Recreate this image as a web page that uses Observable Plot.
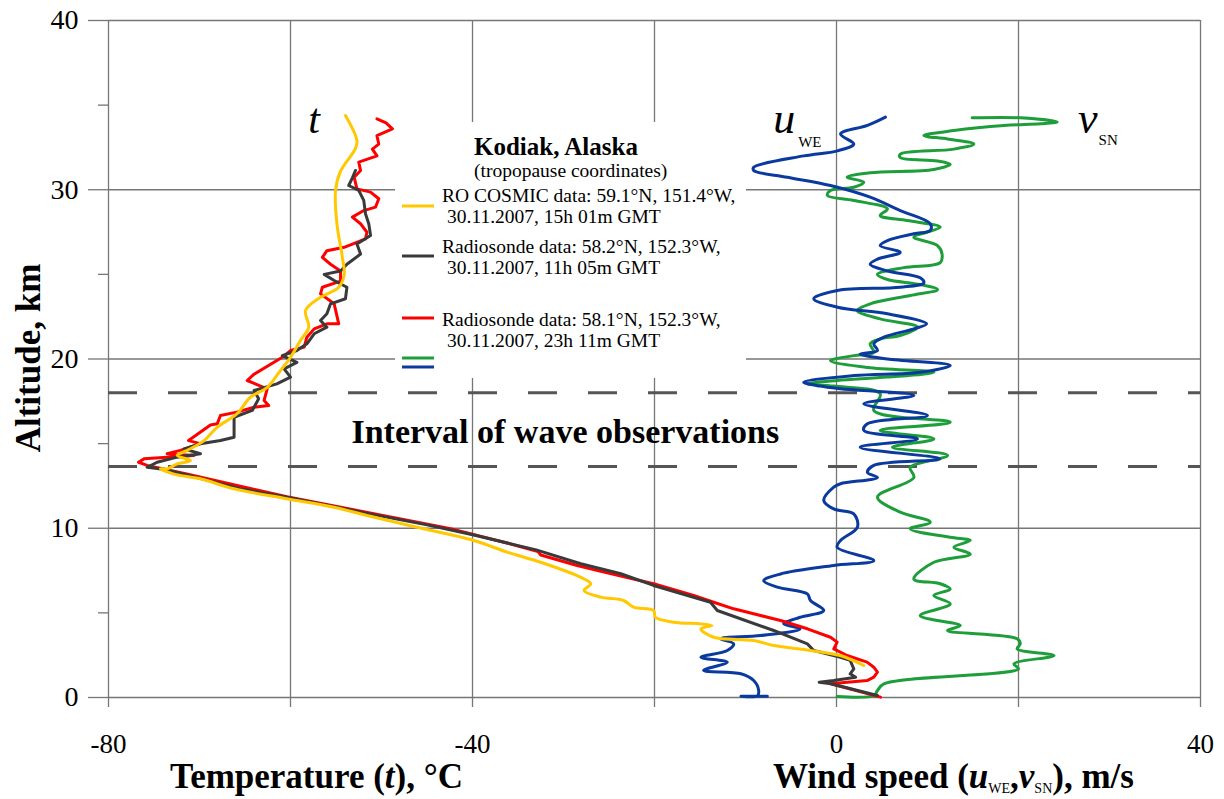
<!DOCTYPE html>
<html>
<head>
<meta charset="utf-8">
<script src="https://cdn.jsdelivr.net/npm/d3@7"></script>
<script src="https://cdn.jsdelivr.net/npm/@observablehq/plot@0.6"></script>
<style>
  body { margin: 0; background: #fff; }
  #chart svg { display: block; }
  #chart svg text { font-family: 'Liberation Serif', 'Times New Roman', serif !important; }
</style>
</head>
<body>
<div id="chart"></div>
<script>
// ---------- tick values ----------
const xGridTicks = [-80, -60, -40, -20, 0, 20, 40];
const xLabelTicks = [-80, -40, 0, 40];
const yMajorTicks = [0, 10, 20, 30, 40];
const yMinorTicks = [5, 15, 25, 35];

// ---------- interval of wave observations (altitude, km) ----------
const intervalBounds = [13.65, 18.0];
const intervalLabel = [{label: "Interval of wave observations", x: -29.8, y: 15.83}];

// ---------- profiles: [value, altitude km] ----------
// RO COSMIC temperature, °C
const cosmicT = [
  [-53.96,34.39],[-52.7,32.9],[-52.9,32.4],[-54.5,31.1],[-55.05,29.96],[-54.9,28.0],[-54.3,26.0],[-54.1,25.0],
  [-54.7,24.24],[-56.7,23.65],[-58.35,22.87],[-58.0,21.88],[-58.9,21.1],[-60.0,20.1],[-61.1,19.32],[-62.56,18.33],
  [-64.4,17.74],[-65.9,16.76],[-68.05,15.97],[-69.5,15.18],[-71.35,14.6],[-72.45,14.3],[-71.0,14.0],[-72.45,13.8],
  [-73.55,13.51],[-74.3,13.51],[-72.8,13.2],[-69.9,12.92],[-66.2,12.33],[-60.4,11.74],[-55.2,11.24],[-51.6,10.75],
  [-46.1,10.06],[-39.85,9.28],[-36.2,8.59],[-32.5,7.99],[-28.1,7.1],[-27.0,6.72],[-27.75,6.32],[-25.9,5.93],
  [-23.4,5.73],[-22.3,5.34],[-20.1,5.14],[-19.9,4.74],[-17.9,4.45],[-14.9,4.35],[-13.7,4.25],[-14.9,4.06],
  [-13.5,3.56],[-9.1,3.37],[-6.9,3.07],[-2.9,2.78],[0.4,2.48],[3.0,1.89]
];
// Radiosonde 11h05 temperature, °C
const sonde1T = [
  [-52.86,31.14],[-53.2,30.7],[-53.6,30.25],[-52.5,29.96],[-51.95,29.37],[-51.76,28.58],[-51.4,27.99],[-51.2,27.3],
  [-52.7,26.8],[-52.3,26.2],[-53.8,25.6],[-54.5,25.2],[-56.3,25.0],[-55.2,24.64],[-53.8,24.24],[-53.96,23.56],
  [-55.6,23.26],[-56.0,22.67],[-56.7,22.27],[-56.0,21.88],[-57.4,21.49],[-58.2,20.9],[-59.3,20.5],[-60.9,20.2],
  [-59.3,19.8],[-60.7,19.42],[-60.0,18.93],[-61.5,18.53],[-64.0,18.14],[-63.5,17.65],[-64.2,16.96],[-66.2,16.56],
  [-66.2,15.38],[-67.7,15.18],[-69.9,14.99],[-71.7,14.69],[-69.9,14.4],[-72.45,14.2],[-74.66,13.9],[-75.75,13.6],
  [-73.55,13.45],[-65.5,12.33],[-60.4,11.84],[-51.6,10.88],[-45.0,10.2],[-39.85,9.6],[-33.0,8.72],[-28.1,7.9],
  [-23.7,7.31],[-20.1,6.62],[-13.85,5.63],[-13.1,5.14],[-6.9,3.96],[-3.2,3.17],[-2.5,2.78],[0.44,2.38],
  [1.5,2.19],[1.9,1.69],[1.5,1.4],[2.1,1.2],[-0.3,1.0],[-1.9,0.9],[-0.6,0.81],[4.5,0.12]
];
// Radiosonde 23h11 temperature, °C
const sonde2T = [
  [-50.5,34.19],[-49.5,33.95],[-48.8,33.6],[-50.5,33.2],[-50.3,32.7],[-51.0,32.4],[-50.5,32.0],[-52.5,31.63],
  [-52.3,31.14],[-53.0,30.74],[-52.7,30.05],[-51.2,29.86],[-50.3,29.47],[-50.66,28.97],[-51.95,28.77],[-53.2,28.38],
  [-52.3,27.99],[-51.6,27.49],[-51.76,27.1],[-54.1,26.6],[-56.0,26.4],[-56.5,26.0],[-55.6,25.6],[-54.5,25.2],
  [-54.5,24.6],[-56.5,24.24],[-56.7,23.85],[-55.2,23.26],[-54.7,22.08],[-56.0,22.08],[-57.4,21.78],[-58.2,21.29],
  [-58.5,20.7],[-60.0,20.5],[-60.9,20.1],[-64.0,19.1],[-64.76,18.73],[-62.56,18.24],[-62.9,17.55],[-62.4,17.25],
  [-64.0,17.15],[-65.9,16.86],[-67.7,16.66],[-68.05,16.17],[-68.8,16.1],[-71.2,15.18],[-69.9,15.0],[-72.1,14.6],
  [-73.55,14.4],[-70.6,14.3],[-73.55,14.2],[-76.1,14.1],[-76.7,13.9],[-75.75,13.71],[-71.4,13.2],[-60.4,11.86],
  [-51.4,10.92],[-42.4,9.97],[-36.0,9.1],[-32.8,8.62],[-32.5,8.42],[-28.5,7.8],[-25.9,7.45],[-20.1,6.72],
  [-15.7,6.03],[-13.5,5.63],[-11.3,5.24],[-6.15,4.55],[-3.2,4.06],[-0.66,3.56],[0.07,3.27],[-0.3,2.87],
  [1.16,2.48],[3.36,2.09],[4.1,1.79],[4.5,1.5],[4.1,1.2],[3.36,1.0],[-0.66,0.81],[4.84,0.02]
];
// West-east wind u_WE, m/s
const windU = [
  [5.38,34.29],[3.4,33.8],[0.44,33.3],[1.9,32.7],[0.1,32.3],[-3.6,32.0],[-9.1,31.33],[-9.1,31.14],
  [-5.4,30.74],[-0.66,30.25],[3.7,29.56],[7.0,28.77],[10.3,27.99],[10.3,27.59],[8.5,27.4],[5.6,27.0],
  [4.8,26.7],[7.0,26.3],[4.5,25.9],[3.7,25.6],[5.6,25.2],[9.2,24.8],[9.6,24.5],[7.0,24.24],
  [0.1,24.05],[-2.5,23.56],[0.1,23.06],[5.6,22.67],[9.9,22.08],[8.5,21.78],[5.2,21.29],[4.1,20.9],
  [4.5,20.5],[2.6,20.3],[5.6,20.0],[12.5,19.62],[9.2,19.22],[1.9,19.02],[-3.6,18.63],[-1.8,18.4],
  [0.44,18.24],[8.5,17.84],[3.0,17.35],[10.0,16.66],[3.4,16.17],[3.0,15.78],[8.9,15.28],[2.6,14.79],
  [11.35,14.1],[4.1,13.71],[3.4,13.3],[4.5,13.0],[0.44,12.63],[-0.3,12.43],[-1.4,11.64],[-0.3,11.14],
  [1.9,10.85],[2.3,10.06],[0.44,9.28],[0.07,8.88],[4.1,8.09],[-0.3,7.8],[-6.15,7.3],[-8.0,6.9],
  [-6.5,6.52],[-3.2,6.12],[-2.86,5.73],[-1.4,5.14],[-4.0,4.74],[-5.8,4.35],[-4.0,4.06],[-8.35,3.66],
  [-12.75,3.47],[-11.3,3.17],[-12.0,2.78],[-14.9,2.38],[-12.0,2.09],[-14.6,1.6],[-10.5,1.4],[-9.1,1.0],
  [-8.55,0.41],[-8.7,0.1],[-10.5,0.08],[-7.6,0.08]
];
// South-north wind v_SN, m/s
const windV = [
  [14.9,34.25],[20.2,34.25],[24.25,34.0],[22.4,33.9],[18.4,33.8],[12.9,33.5],[9.6,33.2],[12.2,33.0],
  [15.1,32.7],[12.9,32.4],[7.0,32.1],[7.0,31.9],[11.1,31.7],[12.5,31.5],[10.7,31.2],[3.7,31.0],
  [1.16,30.74],[3.0,30.45],[1.9,30.15],[-0.66,29.96],[-1.0,29.66],[1.9,29.37],[5.6,28.87],[4.8,28.48],
  [7.8,28.18],[11.4,27.79],[9.9,27.49],[8.5,27.2],[11.1,26.7],[11.6,26.2],[11.4,25.7],[7.4,25.4],
  [4.5,25.0],[5.6,24.7],[9.2,24.4],[11.1,24.1],[8.1,23.75],[3.7,23.26],[2.3,22.86],[4.8,22.37],
  [8.9,21.88],[7.0,21.39],[4.8,21.19],[3.7,20.9],[4.1,20.4],[1.9,20.2],[-0.66,19.9],[3.4,19.5],
  [10.7,19.22],[5.6,18.93],[0.07,18.73],[-3.2,18.53],[-0.3,18.4],[4.8,17.94],[4.1,16.96],[12.5,16.27],
  [4.8,15.78],[10.7,15.28],[6.15,14.79],[12.2,14.3],[8.1,13.6],[8.5,13.0],[4.5,11.84],[7.0,10.95],
  [10.3,10.36],[8.1,9.97],[12.5,9.47],[14.7,9.28],[12.9,8.88],[14.7,8.47],[10.7,7.99],[8.5,7.0],
  [11.4,6.72],[12.5,6.4],[10.7,6.03],[12.5,5.53],[9.2,4.84],[13.6,4.25],[12.2,3.96],[19.85,3.47],
  [20.2,3.17],[19.85,2.87],[23.9,2.48],[19.5,1.99],[20.0,1.69],[5.2,0.81],[4.5,0.41],[4.1,0.12],[0.07,0.06]
];

// ---------- series styling & legend text ----------
const seriesColors = {cosmic: "#FFC800", sonde1: "#3A3A3A", sonde2: "#FF0000", v: "#1E9E3A", u: "#0B3A9E"};
const legendTitle = "Kodiak, Alaska";
const legendSubtitle = "(tropopause coordinates)";
const legendEntries = [
  {key: "cosmic", lines: ["RO COSMIC data: 59.1°N, 151.4°W,", "30.11.2007, 15h 01m GMT"]},
  {key: "sonde1", lines: ["Radiosonde data: 58.2°N, 152.3°W,", "30.11.2007, 11h 05m GMT"]},
  {key: "sonde2", lines: ["Radiosonde data: 58.1°N, 152.3°W,", "30.11.2007, 23h 11m GMT"]},
  {key: "v", lines: []},
  {key: "u", lines: []}
];

const GRID = "#767676";
const FONT = "'Liberation Serif', 'Times New Roman', serif";
const lineOpts = (color, curve) => ({x: d => d[0], y: d => d[1], stroke: color, strokeWidth: 3, curve});

const chart = Plot.plot({
  width: 1224,
  height: 799,
  marginLeft: 108,
  marginRight: 24,
  marginTop: 20,
  marginBottom: 102,
  style: {fontFamily: FONT, background: "#fff", color: "#000"},
  x: {domain: [-80, 40], label: null},
  y: {domain: [0, 40], label: null},
  marks: [
    Plot.gridX(xGridTicks, {stroke: GRID, strokeOpacity: 1, strokeWidth: 1.3}),
    Plot.gridY(yMajorTicks, {stroke: GRID, strokeOpacity: 1, strokeWidth: 1.3}),
    Plot.axisX(xGridTicks, {tickSize: 10, tickPadding: 26, fontSize: 27, fontFamily: FONT, stroke: GRID, strokeWidth: 1.3,
      tickFormat: d => xLabelTicks.includes(d) ? String(d) : "", label: null}),
    Plot.axisY(yMajorTicks, {tickSize: 20, tickPadding: 10, fontSize: 28, fontFamily: FONT, stroke: GRID, strokeWidth: 1.3,
      tickFormat: d => String(d), label: null}),
    Plot.axisY(yMinorTicks, {tickSize: 10, stroke: GRID, strokeWidth: 1.3, tickFormat: () => "", label: null}),
    Plot.ruleY(intervalBounds, {stroke: "#555", strokeWidth: 3, strokeDasharray: "29,31"}),
    Plot.text(intervalLabel, {x: "x", y: "y", text: "label", fontSize: 34, fontWeight: "bold", fontFamily: FONT, dy: 3}),
    Plot.line(windV, lineOpts(seriesColors.v, "catmull-rom")),
    Plot.line(windU, lineOpts(seriesColors.u, "catmull-rom")),
    Plot.line(sonde2T, lineOpts(seriesColors.sonde2, "linear")),
    Plot.line(sonde1T, lineOpts(seriesColors.sonde1, "linear")),
    Plot.line(cosmicT, lineOpts(seriesColors.cosmic, "catmull-rom"))
  ]
});

document.getElementById("chart").appendChild(chart);

// ---------- rich-text annotations ----------
const svg = d3.select(chart);
const sx = chart.scale("x"), sy = chart.scale("y");
const ann = svg.append("g").attr("font-family", FONT).attr("fill", "#000").attr("text-anchor", "start");

// curve labels
ann.append("text").attr("x", sx.apply(-58.0)).attr("y", sy.apply(33.3))
  .attr("font-size", 42).attr("font-style", "italic").text("t");
const uLab = ann.append("text").attr("x", sx.apply(-6.9)).attr("y", sy.apply(33.3)).attr("font-size", 44);
uLab.append("tspan").attr("font-style", "italic").text("u");
uLab.append("tspan").attr("font-size", 15).attr("dx", 3).attr("dy", 14).text("WE");
const vLab = ann.append("text").attr("x", sx.apply(26.6)).attr("y", sy.apply(33.3)).attr("font-size", 44);
vLab.append("tspan").attr("font-style", "italic").text("v");
vLab.append("tspan").attr("font-size", 15).attr("dx", 1).attr("dy", 12).text("SN");

// axis titles
ann.append("text").attr("transform", "translate(40,358) rotate(-90)")
  .attr("text-anchor", "middle").attr("font-size", 35).attr("font-weight", "bold").text("Altitude, km");

const tTitle = ann.append("text").attr("x", 170).attr("y", 788).attr("font-size", 35).attr("font-weight", "bold");
tTitle.append("tspan").text("Temperature (");
tTitle.append("tspan").attr("font-style", "italic").text("t");
tTitle.append("tspan").text("), °C");

const wTitle = ann.append("text").attr("x", 773).attr("y", 788).attr("font-size", 35).attr("font-weight", "bold");
wTitle.append("tspan").text("Wind speed (");
wTitle.append("tspan").attr("font-style", "italic").text("u");
wTitle.append("tspan").attr("font-size", 14).attr("font-weight", "normal").attr("dy", 5).text("WE");
wTitle.append("tspan").attr("dy", -5).text(",");
wTitle.append("tspan").attr("font-style", "italic").text("v");
wTitle.append("tspan").attr("font-size", 14).attr("font-weight", "normal").attr("dy", 5).text("SN");
wTitle.append("tspan").attr("dy", -5).text("), m/s");

// ---------- legend box ----------
const leg = svg.append("g").attr("font-family", FONT).attr("fill", "#000").attr("text-anchor", "start");
leg.append("rect").attr("x", 395).attr("y", 122).attr("width", 351).attr("height", 256).attr("fill", "#fff");
leg.append("text").attr("x", 474).attr("y", 155).attr("font-size", 25).attr("font-weight", "bold").text(legendTitle);
leg.append("text").attr("x", 474).attr("y", 177).attr("font-size", 19.5).text(legendSubtitle);
const swatchY = [206, 256, 318, 358, 367];
const textY = [202, 253, 326];
legendEntries.forEach((e, i) => {
  leg.append("line").attr("x1", 402).attr("x2", 434).attr("y1", swatchY[i]).attr("y2", swatchY[i])
    .attr("stroke", seriesColors[e.key]).attr("stroke-width", 3);
  e.lines.forEach((ln, j) => {
    leg.append("text").attr("x", j === 0 ? 442 : 447).attr("y", textY[i] + j * 21)
      .attr("font-size", 19.5).text(ln);
  });
});
</script>
</body>
</html>
